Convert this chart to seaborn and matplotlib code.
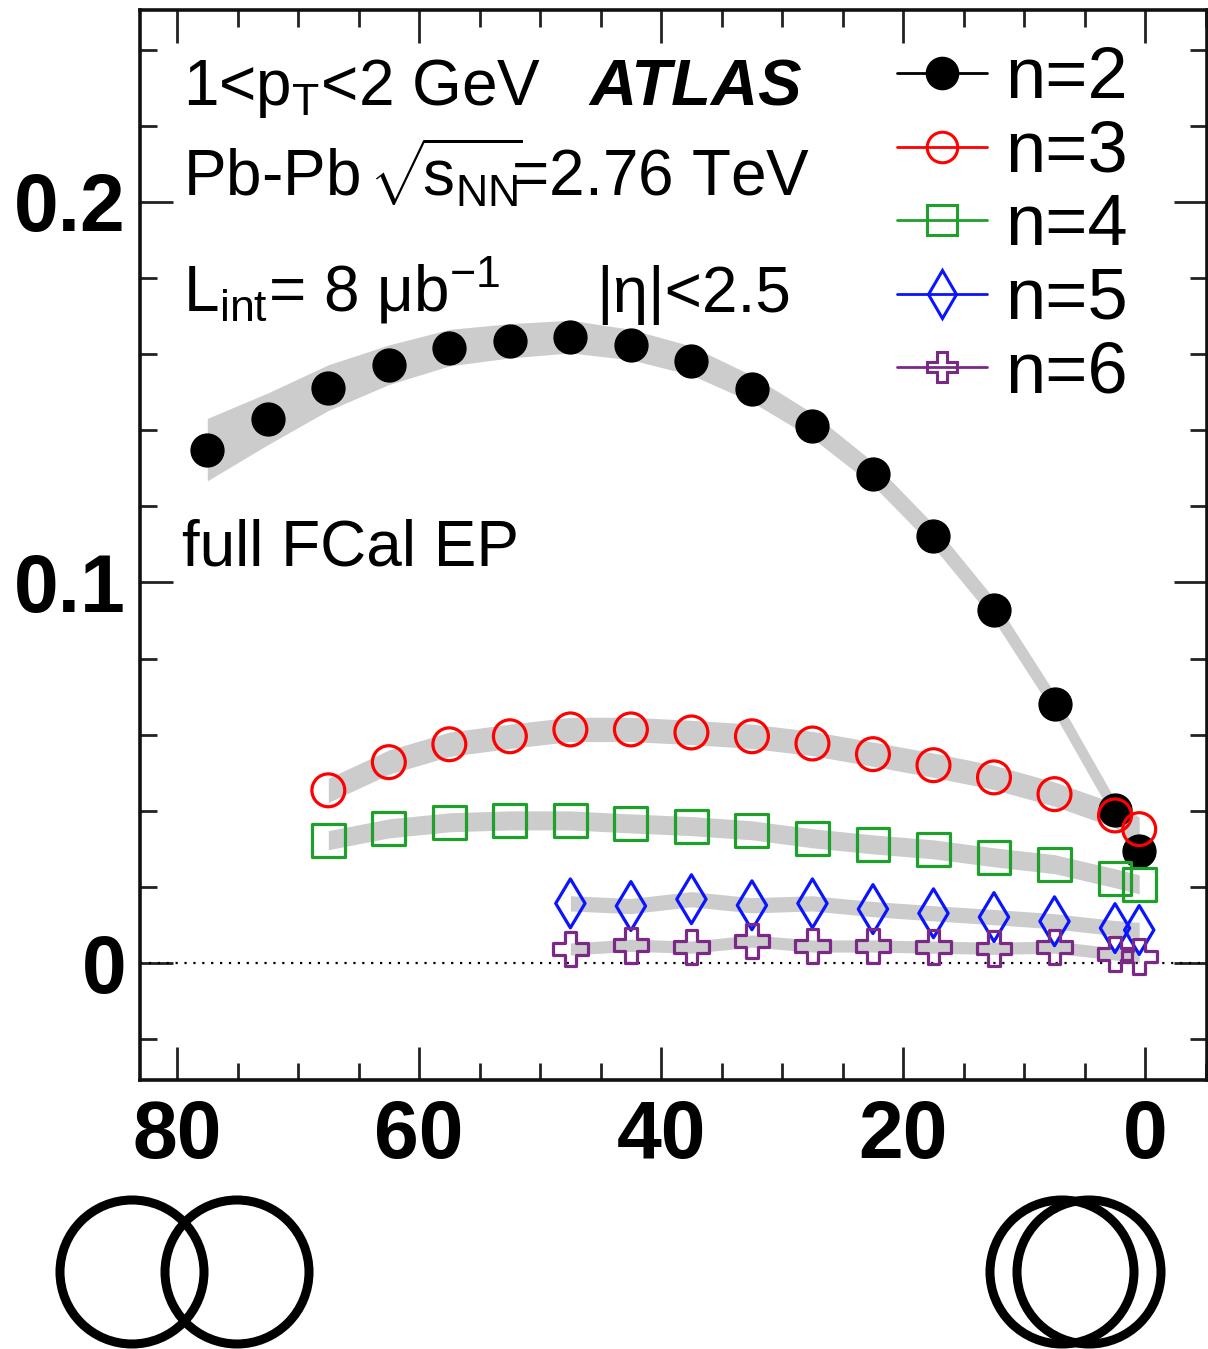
import numpy as np
import pandas as pd
import matplotlib
matplotlib.use("Agg")
import matplotlib.pyplot as plt
from matplotlib.lines import Line2D
from matplotlib.patches import Circle
from matplotlib.ticker import MultipleLocator
import seaborn as sns

# Centrality bin centres (%)
cent_v2 = [77.5, 72.5, 67.5, 62.5, 57.5, 52.5, 47.5, 42.5, 37.5, 32.5, 27.5,
           22.5, 17.5, 12.5, 7.5, 2.5, 0.5]
cent_v34 = cent_v2[2:]
cent_v56 = cent_v2[6:]

# v_n values
v2 = [0.1349, 0.1430, 0.1512, 0.1572, 0.1617, 0.1635, 0.1646, 0.1625, 0.1583,
      0.1509, 0.1412, 0.1286, 0.1123, 0.0929, 0.0682, 0.0402, 0.0294]
v3 = [0.0454, 0.0528, 0.0575, 0.0596, 0.0614, 0.0614, 0.0606, 0.0596, 0.0577,
      0.0549, 0.0520, 0.0488, 0.0444, 0.0388, 0.0352]
v4 = [0.0323, 0.0354, 0.0370, 0.0375, 0.0375, 0.0367, 0.0360, 0.0349, 0.0328,
      0.0312, 0.0299, 0.0278, 0.0260, 0.0223, 0.0207]
v5 = [0.0157, 0.0150, 0.0168, 0.0152, 0.0157, 0.0142, 0.0131, 0.0121, 0.0110,
      0.0092, 0.0087]
v6 = [0.0037, 0.0047, 0.0042, 0.0058, 0.0045, 0.0045, 0.0042, 0.0039, 0.0042,
      0.0024, 0.0018]

# Systematic uncertainties (grey bands)
sys2 = [0.0082, 0.0068, 0.0060, 0.0052, 0.0048, 0.0045, 0.0043, 0.0040, 0.0038,
        0.0035, 0.0033, 0.0031, 0.0030, 0.0029, 0.0028, 0.0028, 0.0028]
sys3 = [0.0032] * len(v3)
sys4 = [0.0025] * len(v4)
sys5 = [0.0020] * len(v5)
sys6 = [0.0016] * len(v6)

labels = ["n=2", "n=3", "n=4", "n=5", "n=6"]
colors = ["black", "#ff0000", "#1fa02a", "#0a14ff", "#7a2a86"]
markers = ["o", "o", "s", "d", "P"]
filled = [True, False, False, False, False]

series = [(cent_v2, v2, sys2), (cent_v34, v3, sys3), (cent_v34, v4, sys4),
          (cent_v56, v5, sys5), (cent_v56, v6, sys6)]

sns.set_theme(style="ticks")
plt.rcParams["font.family"] = ["Liberation Sans", "DejaVu Sans"]
plt.rcParams["mathtext.fontset"] = "custom"
plt.rcParams["mathtext.rm"] = "Liberation Sans"
plt.rcParams["mathtext.it"] = "Liberation Sans:italic"
plt.rcParams["mathtext.bf"] = "Liberation Sans:bold"
for key in ("text.color", "axes.labelcolor", "xtick.color", "ytick.color",
            "axes.edgecolor"):
    plt.rcParams[key] = "black"

fig = plt.figure(figsize=(12.08, 13.49), dpi=100)
ax = fig.add_axes([140 / 1208, 1 - 1080 / 1349, 1067 / 1208, 1070 / 1349])

# grey systematic bands
for (x, y, s) in series:
    y = np.asarray(y)
    s = np.asarray(s)
    ax.fill_between(x, y - s, y + s, color="#cccccc", lw=0, zorder=1)

ax.axhline(0, color="black", ls=(0, (1, 3)), lw=1.6, zorder=1.5)

# data points
for (x, y, s), lab, c, m, f in zip(series, labels, colors, markers, filled):
    df = pd.DataFrame({"centrality": x, "vn": y})
    size = 560 if m in ("o", "s") else 620
    if f:
        sns.scatterplot(data=df, x="centrality", y="vn", ax=ax, marker=m, s=size,
                        color=c, edgecolor=c, linewidth=1.0, zorder=3, legend=False)
    else:
        sns.scatterplot(data=df, x="centrality", y="vn", ax=ax, marker=m, s=size,
                        facecolor="none", edgecolor=c, linewidth=2.3, zorder=3,
                        legend=False)

ax.set_xlim(83.06, -5.1)
ax.set_ylim(-0.0307, 0.2504)
ax.set_xlabel("")
ax.set_ylabel("")

ax.xaxis.set_major_locator(MultipleLocator(20))
ax.xaxis.set_minor_locator(MultipleLocator(5))
ax.yaxis.set_major_locator(MultipleLocator(0.1))
ax.yaxis.set_minor_locator(MultipleLocator(0.02))
ax.set_yticks([0, 0.1, 0.2])
ax.set_yticklabels(["0", "0.1", "0.2"])
ax.set_xticks([80, 60, 40, 20, 0])
ax.set_xticklabels(["80", "60", "40", "20", "0"])
ax.tick_params(which="both", direction="in", top=True, right=True, width=2.0,
               color="#222222")
ax.tick_params(which="major", length=24, labelsize=58, pad=10)
ax.tick_params(axis="x", which="major", pad=14)
ax.tick_params(which="minor", length=12)
for lbl in ax.get_xticklabels() + ax.get_yticklabels():
    lbl.set_fontweight("bold")
for sp in ax.spines.values():
    sp.set_linewidth(2.6)
    sp.set_color("#111111")

# annotations
tkw = dict(transform=ax.transAxes, fontsize=46, va="baseline", ha="left")
ax.text(0.040, 0.911, r"1<p$_\mathregular{T}$<2 GeV", **tkw)
ax.text(0.421, 0.911, "ATLAS", fontweight="bold", fontstyle="italic",
        transform=ax.transAxes, fontsize=47, va="baseline", ha="left")
ax.text(0.040, 0.826,
        r"Pb-Pb$\,\sqrt{\!\mathregular{s}_\mathregular{NN}\!}\!$=2.76 TeV", **tkw)
ax.text(0.040, 0.718, r"L$_\mathregular{int}$= 8 μb$^\mathregular{-1}$", **tkw)
ax.text(0.428, 0.718, "|η|<2.5", **tkw)
ax.text(0.039, 0.481, "full FCal EP", **tkw)

# legend
handles = []
for lab, c, m, f in zip(labels, colors, markers, filled):
    handles.append(Line2D([], [], color=c, lw=2.0, marker=m, markersize=22 if m != "d" else 24,
                          markerfacecolor=c if f else "none", markeredgecolor=c,
                          markeredgewidth=2.2, label=lab))
leg = ax.legend(handles=handles, loc="upper left",
                bbox_to_anchor=(0.709, 0.966), frameon=False, fontsize=52,
                handlelength=1.25, handletextpad=0.25, labelspacing=0.09,
                borderpad=0, borderaxespad=0)

# overlap sketches of two nuclei below the axis
ax2 = fig.add_axes([0, 0, 1, 180 / 1349])
ax2.set_xlim(0, 1208)
ax2.set_ylim(1349, 1169)
ax2.axis("off")
for cx in (132, 237, 1062, 1089):
    ax2.add_patch(Circle((cx, 1272), 72, fill=False, lw=6.5, color="black"))

fig.savefig("out.png", dpi=100)
